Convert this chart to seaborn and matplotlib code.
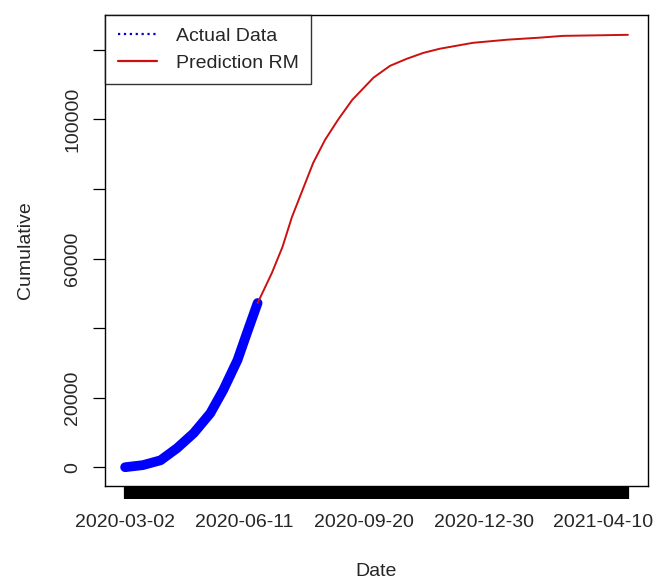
import matplotlib
matplotlib.use("Agg")
import matplotlib.pyplot as plt
from matplotlib.lines import Line2D
import pandas as pd
import seaborn as sns

# observed cumulative counts
actual_dates = ["2020-03-02", "2020-03-17", "2020-04-01", "2020-04-15", "2020-04-29",
                "2020-05-13", "2020-05-24", "2020-06-05", "2020-06-13", "2020-06-22"]
actual_values = [0, 600, 2000, 5500, 9800, 15500, 22200, 30800, 38600, 47200]

# fitted curve (prediction)
pred_dates = ["2020-06-22", "2020-07-04", "2020-07-13", "2020-07-21", "2020-07-30",
              "2020-08-08", "2020-08-18", "2020-08-29", "2020-09-10", "2020-09-28",
              "2020-10-12", "2020-10-26", "2020-11-09", "2020-11-23", "2020-12-21",
              "2021-01-19", "2021-02-16", "2021-03-07", "2021-05-01"]
pred_values = [47200, 55800, 63300, 71900, 79700, 87500, 94100, 99900, 105600, 112000,
               115400, 117400, 119100, 120300, 122000, 122900, 123500, 124000, 124300]

start_date = "2020-03-02"
end_date = "2021-05-01"
label_step = 101
y_ticks = [0, 20000, 40000, 60000, 80000, 100000, 120000]
y_labels = ["0", "20000", "", "60000", "", "100000", ""]

actual = pd.DataFrame({"date": pd.to_datetime(actual_dates), "value": actual_values})
pred = pd.DataFrame({"date": pd.to_datetime(pred_dates), "value": pred_values})

sns.set_style("ticks")
plt.rcParams["font.family"] = ["Liberation Sans", "DejaVu Sans"]

fig = plt.figure(figsize=(6.57, 5.79), dpi=100)
ax = fig.add_axes([105 / 657, 1 - 486 / 579, 543 / 657, 471 / 579])

sns.lineplot(data=actual, x="date", y="value", ax=ax, color="#0000ff", linewidth=7,
             solid_capstyle="round", solid_joinstyle="round")
sns.lineplot(data=pred, x="date", y="value", ax=ax, color="#cc1010", linewidth=1.4)

# daily ticks, label every 101 days (as the R axis did)
days = pd.date_range(start_date, end_date, freq="D")
ax.set_xticks(days)
ax.set_xticklabels([d.strftime("%Y-%m-%d") if i % label_step == 0 else ""
                    for i, d in enumerate(days)])
n = len(days) - 1
pad = pd.Timedelta(days=0.04 * n)
ax.set_xlim(days[0] - pad, days[-1] + pad)
ax.set_ylim(-5400, 130000)
ax.set_yticks(y_ticks)
ax.set_yticklabels(y_labels, rotation=90, va="center")

ax.tick_params(axis="x", length=9.5, width=1.6, pad=11, labelsize=14, color="black")
ax.tick_params(axis="y", length=9, width=0.9, pad=8, labelsize=14, color="black")
for s in ax.spines.values():
    s.set_color("black")
    s.set_linewidth(1.0)

ax.set_xlabel("Date", fontsize=14)
ax.set_ylabel("Cumulative", fontsize=14)
ax.xaxis.set_label_coords(0.5, -0.163)
ax.yaxis.set_label_coords(-0.13, 0.5)

handles = [Line2D([], [], color="#0000cc", linestyle=":", linewidth=1.6),
           Line2D([], [], color="#cc1010", linewidth=1.6)]
leg = ax.legend(handles, ["Actual Data", "Prediction RM"], loc="upper left",
                borderaxespad=0, fancybox=False, fontsize=14, handlelength=2.0,
                handletextpad=1.0, labelspacing=0.45, borderpad=0.65)
leg.get_frame().set_edgecolor("black")
leg.get_frame().set_linewidth(1.0)

fig.savefig("out.png", dpi=100)
